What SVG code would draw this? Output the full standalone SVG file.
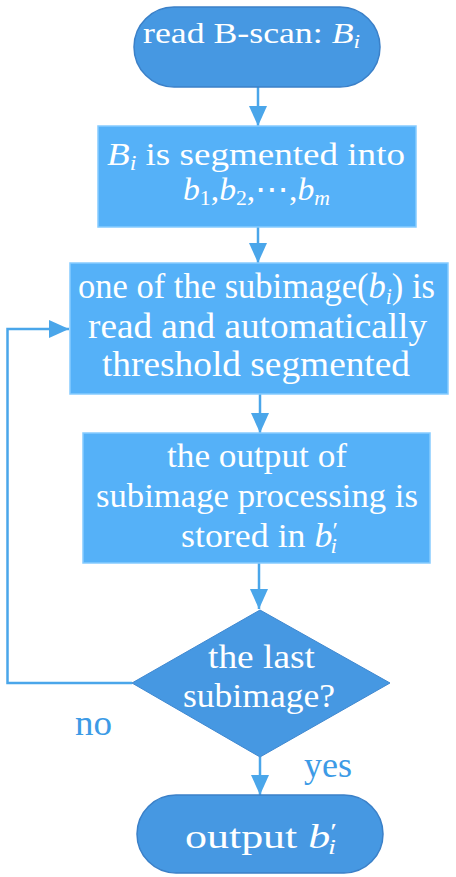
<svg xmlns="http://www.w3.org/2000/svg" width="456" height="877" viewBox="0 0 456 877">
<style>
.term{fill:#4698e2;stroke:#3b80c8;stroke-width:1.5}
.box{fill:#55b1f8;stroke:#86ccff;stroke-width:1.5}
.dia{fill:#4698e2;stroke:#3f88d0;stroke-width:1}
.t{font-family:"Liberation Serif","Times New Roman",serif;fill:#ffffff}
.lbl{font-family:"Liberation Serif","Times New Roman",serif;fill:#3d9be6;font-size:35px}
.m{font-style:italic}
.c{fill:none;stroke:#4aa6ea;stroke-width:2.5}
</style>
<defs>
<marker id="ah" viewBox="0 0 20 18" refX="20" refY="9" markerWidth="20" markerHeight="18" markerUnits="userSpaceOnUse" orient="auto">
<path d="M0,0 L20,9 L0,18 Z" fill="#4aa6ea"/>
</marker>
</defs>
<g id="connectors">
<line class="c" x1="258" y1="87" x2="258" y2="126" marker-end="url(#ah)"/>
<line class="c" x1="258" y1="227" x2="258" y2="263" marker-end="url(#ah)"/>
<line class="c" x1="260" y1="394" x2="260" y2="433" marker-end="url(#ah)"/>
<line class="c" x1="259" y1="563" x2="259" y2="609" marker-end="url(#ah)"/>
<line class="c" x1="260" y1="757" x2="260" y2="795" marker-end="url(#ah)"/>
<polyline class="c" points="132,683 7.5,683 7.5,329 69,329" marker-end="url(#ah)"/>
</g>
<g id="start">
<rect class="term" x="134" y="7" width="246" height="80" rx="40" ry="40"/>
<text class="t" x="143" y="43" font-size="29" textLength="217" lengthAdjust="spacingAndGlyphs">read B-scan: <tspan class="m">B</tspan><tspan class="m" font-size="19" dy="5">i</tspan></text>
</g>
<g id="segment">
<rect class="box" x="98" y="126" width="318" height="101"/>
<text class="t" font-size="31" x="107" y="165" textLength="298" lengthAdjust="spacingAndGlyphs"><tspan class="m">B</tspan><tspan class="m" font-size="20" dy="5">i</tspan><tspan dy="-5"> is segmented into</tspan></text>
<text class="t" font-size="31" x="183" y="200" textLength="147" lengthAdjust="spacingAndGlyphs"><tspan class="m">b</tspan><tspan font-size="20" dy="5">1</tspan><tspan dy="-5">,</tspan><tspan class="m">b</tspan><tspan font-size="20" dy="5">2</tspan><tspan dy="-5">,⋯,</tspan><tspan class="m">b</tspan><tspan class="m" font-size="20" dy="5">m</tspan></text>
</g>
<g id="read">
<rect class="box" x="70" y="263" width="378" height="131"/>
<text class="t" font-size="36" x="78" y="298" textLength="357" lengthAdjust="spacingAndGlyphs">one of the subimage(<tspan class="m">b</tspan><tspan class="m" font-size="23" dy="6">i</tspan><tspan dy="-6">) is</tspan></text>
<text class="t" font-size="36" x="88" y="338" textLength="339" lengthAdjust="spacingAndGlyphs">read and automatically</text>
<text class="t" font-size="36" x="102" y="376" textLength="308" lengthAdjust="spacingAndGlyphs">threshold segmented</text>
</g>
<g id="store">
<rect class="box" x="83" y="433" width="347" height="130"/>
<text class="t" font-size="34" x="167" y="467" textLength="180" lengthAdjust="spacingAndGlyphs">the output of</text>
<text class="t" font-size="34" x="96" y="507" textLength="322" lengthAdjust="spacingAndGlyphs">subimage processing is</text>
<text class="t" font-size="34" x="181" y="547" textLength="157" lengthAdjust="spacingAndGlyphs">stored in <tspan class="m">b</tspan><tspan font-size="24" dy="-9">′</tspan><tspan class="m" font-size="22" dx="-7" dy="15">i</tspan></text>
</g>
<g id="decision">
<polygon class="dia" points="260,610 390,683 260,757 132,683"/>
<text class="t" font-size="34" x="208" y="668" textLength="107" lengthAdjust="spacingAndGlyphs">the last</text>
<text class="t" font-size="34" x="183" y="707" textLength="152" lengthAdjust="spacingAndGlyphs">subimage?</text>
</g>
<g id="labels">
<text class="lbl" x="75" y="735" textLength="37" lengthAdjust="spacingAndGlyphs">no</text>
<text class="lbl" x="304" y="777" textLength="48" lengthAdjust="spacingAndGlyphs">yes</text>
</g>
<g id="end">
<rect class="term" x="137" y="795" width="246" height="78" rx="39" ry="39"/>
<text class="t" font-size="34" x="185" y="848" textLength="152" lengthAdjust="spacingAndGlyphs">output <tspan class="m">b</tspan><tspan font-size="24" dy="-9">′</tspan><tspan class="m" font-size="22" dx="-7" dy="15">i</tspan></text>
</g>
</svg>
